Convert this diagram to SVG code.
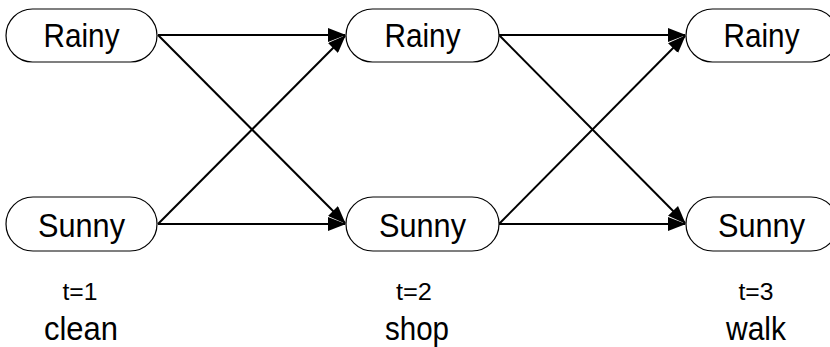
<svg xmlns="http://www.w3.org/2000/svg" width="830" height="347" viewBox="0 0 830 347">
  <style>
    .state { fill: #ffffff; stroke: #000000; stroke-width: 1.2; }
    .label { font-family: "Liberation Sans", Arial, sans-serif; font-size: 33px; fill: #000000; text-anchor: middle; }
    .time { font-family: "Liberation Sans", Arial, sans-serif; font-size: 23px; fill: #000000; text-anchor: middle; }
    .obs { font-family: "Liberation Sans", Arial, sans-serif; font-size: 34px; fill: #000000; text-anchor: middle; }
    .edge { stroke: #000000; stroke-width: 2; fill: none; marker-end: url(#head); }
  </style>
  <defs>
    <marker id="head" viewBox="0 0 18 14" refX="17" refY="7" markerWidth="18" markerHeight="14" markerUnits="userSpaceOnUse" orient="auto">
      <path d="M0,0 L18,7 L0,14 Z" fill="#000000"/>
    </marker>
  </defs>

  <!-- transitions between consecutive time steps -->
  <g id="connectors">
    <line class="edge" x1="158" y1="35" x2="345" y2="35"/>
    <line class="edge" x1="158" y1="35" x2="345" y2="223"/>
    <line class="edge" x1="158" y1="224" x2="345" y2="36"/>
    <line class="edge" x1="158" y1="224" x2="345" y2="224"/>
    <line class="edge" x1="499" y1="35" x2="685" y2="35"/>
    <line class="edge" x1="499" y1="35" x2="685" y2="223"/>
    <line class="edge" x1="499" y1="224" x2="685" y2="36"/>
    <line class="edge" x1="499" y1="224" x2="685" y2="224"/>
  </g>

  <g id="rainy1">
    <rect class="state" x="6" y="9" width="151" height="53" rx="26.5"/>
    <text class="label" x="81.5" y="47" textLength="76" lengthAdjust="spacingAndGlyphs">Rainy</text>
  </g>
  <g id="sunny1">
    <rect class="state" x="6" y="197" width="151" height="54" rx="27"/>
    <text class="label" x="81.5" y="237" textLength="87" lengthAdjust="spacingAndGlyphs">Sunny</text>
  </g>
  <g id="rainy2">
    <rect class="state" x="346" y="9" width="153" height="53" rx="26.5"/>
    <text class="label" x="422.5" y="47" textLength="76" lengthAdjust="spacingAndGlyphs">Rainy</text>
  </g>
  <g id="sunny2">
    <rect class="state" x="346" y="197" width="153" height="54" rx="27"/>
    <text class="label" x="422.5" y="237" textLength="87" lengthAdjust="spacingAndGlyphs">Sunny</text>
  </g>
  <g id="rainy3">
    <rect class="state" x="686" y="9" width="152" height="53" rx="26.5"/>
    <text class="label" x="761.5" y="47" textLength="76" lengthAdjust="spacingAndGlyphs">Rainy</text>
  </g>
  <g id="sunny3">
    <rect class="state" x="686" y="197" width="152" height="54" rx="27"/>
    <text class="label" x="761.5" y="237" textLength="87" lengthAdjust="spacingAndGlyphs">Sunny</text>
  </g>

  <g id="step1">
    <text class="time" x="80" y="300" textLength="35" lengthAdjust="spacingAndGlyphs">t=1</text>
    <text class="obs" x="81" y="340" textLength="74" lengthAdjust="spacingAndGlyphs">clean</text>
  </g>
  <g id="step2">
    <text class="time" x="414" y="300" textLength="36" lengthAdjust="spacingAndGlyphs">t=2</text>
    <text class="obs" x="417" y="340" textLength="64" lengthAdjust="spacingAndGlyphs">shop</text>
  </g>
  <g id="step3">
    <text class="time" x="756" y="300" textLength="35" lengthAdjust="spacingAndGlyphs">t=3</text>
    <text class="obs" x="756" y="340" textLength="60" lengthAdjust="spacingAndGlyphs">walk</text>
  </g>
</svg>
